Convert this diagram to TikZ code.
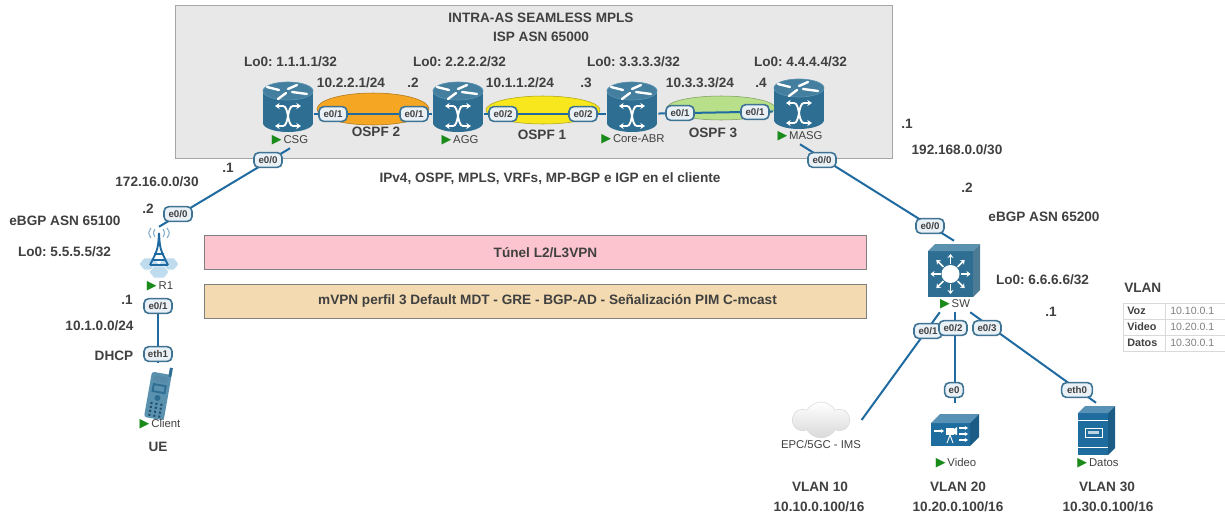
\documentclass[tikz,border=0pt]{standalone}
\usepackage{fontspec}
\setmainfont{Liberation Sans}
\newfontfamily\symfont{DejaVu Sans}
\usepackage{xcolor}
\usetikzlibrary{arrows.meta,shapes.symbols}

\definecolor{txtgray}{HTML}{404040}
\definecolor{linkblue}{HTML}{1F6AA0}
\definecolor{portline}{HTML}{3F7394}
\definecolor{portfill}{HTML}{EAF1F6}
\definecolor{devblue}{HTML}{2E6E92}
\definecolor{devtop}{HTML}{447F9F}
\definecolor{devside}{HTML}{5A91AF}
\definecolor{srvblue}{HTML}{1F6C9E}
\definecolor{hexblue}{HTML}{BFDCEF}
\definecolor{playgreen}{HTML}{1A8A1A}
\definecolor{ospforange}{HTML}{F5A623}
\definecolor{ospfyellow}{HTML}{F8E71C}
\definecolor{ospfgreen}{HTML}{B8E08A}
\definecolor{bandpink}{HTML}{FCC4CE}
\definecolor{bandtan}{HTML}{F3DAB0}

\newcommand{\playmark}{{\symfont\fontsize{9.5}{10}\selectfont\textcolor{playgreen}{▶}}\,}

\tikzset{
  boldlabel/.style={inner sep=0pt,text=txtgray,font=\frenchspacing\bfseries\fontsize{10.2}{12}\selectfont},
  devlabel/.style={inner sep=0pt,minimum height=12pt,text=txtgray,font=\fontsize{8.5}{10}\selectfont},
  port/.style={draw=portline,line width=1.2pt,fill=portfill,rounded corners=3.5pt,inner sep=0pt,
    minimum width=21pt,minimum height=11pt,text=txtgray,font=\bfseries\fontsize{7.3}{9}\selectfont},
  devbox/.style={inner sep=0pt,minimum width=39pt,minimum height=39pt},
  link/.style={draw=linkblue,line width=1.5pt},
  area/.style={draw=#1!70!black,line width=0.4pt,fill=#1},
  band/.style={draw=gray,line width=0.7pt,minimum width=497pt,minimum height=25.5pt,inner sep=0pt,
    text=txtgray,font=\frenchspacing\bfseries\fontsize{10.2}{12}\selectfont},
  cell/.style={inner sep=0pt,anchor=west,text=gray,font=\fontsize{7.9}{10}\selectfont},
  cellhead/.style={inner sep=0pt,anchor=west,text=txtgray,font=\bfseries\fontsize{8.1}{10}\selectfont},
  router/.pic={
    \fill[devblue] (-25,-23) rectangle (25,9);
    \fill[devblue] (0,9) ellipse [x radius=25,y radius=9];
    \draw[devside,fill=devtop,line width=0.5pt] (0,-23) ellipse [x radius=25,y radius=9];
    \draw[white,line width=1.8pt,line cap=round] (-21,-27) -- (-9,-24) (0,-25) -- (9,-29)
      (-10,-15) -- (-2,-21) (4,-22) -- (19,-20);
    \draw[white,line width=1.4pt,{Stealth[length=3.5pt,width=4.5pt]}-{Stealth[length=3.5pt,width=4.5pt]}]
      (-13,-8) -- (-5,-8) .. controls (1,-8) and (-1,12) .. (5,12) -- (13,12);
    \draw[white,line width=1.4pt,{Stealth[length=3.5pt,width=4.5pt]}-{Stealth[length=3.5pt,width=4.5pt]}]
      (-13,12) -- (-5,12) .. controls (1,12) and (-1,-8) .. (5,-8) -- (13,-8);
  },
  l3switch/.pic={
    \fill[devblue] (-26,-19) rectangle (19,27);
    \fill[devside] (-26,-19) -- (-19,-26) -- (26,-26) -- (19,-19) -- cycle;
    \fill[devside!85!black] (19,-19) -- (26,-26) -- (26,20) -- (19,27) -- cycle;
    \fill[white] (-3.5,4) circle [x radius=9,y radius=9];
    \foreach \ang in {0,45,...,315}
      \draw[white,line width=1.2pt,-{Stealth[length=3pt,width=4.5pt]}]
        ([shift={(\ang:10)}]-3.5,4) -- ([shift={(\ang:20)}]-3.5,4);
  },
  tower/.pic={
    % hex cells
    \foreach \hx/\hy in {-10/9,10/9,0/17}
      \draw[white,line width=0.4pt,fill=hexblue,shift={(\hx,\hy)}] (-10,0) -- (-5,-6) -- (5,-6) -- (10,0) -- (5,6) -- (-5,6) -- cycle;
    % mast
    \draw[linkblue,line width=1.4pt] (0,-22) .. controls (-1,-6) .. (-9,10) (0,-22) .. controls (1,-6) .. (9,10)
      (-9,10) -- (9,10) (-5,-1) -- (5,-1) (-7,5) -- (7,5);
    % signal
    \draw[linkblue!55,line width=0.8pt] (-4,-26) .. controls (-6,-22) .. (-4,-18)
      (4,-26) .. controls (6,-22) .. (4,-18) (-8,-27) .. controls (-11,-22) .. (-8,-17)
      (8,-27) .. controls (11,-22) .. (8,-17);
  },
  phone/.pic={
    \begin{scope}[rotate=-10]
      \fill[devside,rounded corners=2pt] (-10,-22) rectangle (10,24);
      \fill[devblue!80,rounded corners=1pt] (-7,-19) rectangle (7,-13);
      \fill[devblue] (-7,-11) rectangle (7,-2);
      \fill[devside] (-5,-9) rectangle (5,-4);
      \fill[devblue] (0,3) circle [x radius=3,y radius=3];
      \fill[devblue] (7,-29) rectangle (10,-20);
      \foreach \kx in {-5,0,5}
        \foreach \ky in {9,13,17,21}
          \fill[devblue!70!black] (\kx-1,\ky-1) rectangle (\kx+1,\ky+1);
    \end{scope}
  },
  videobox/.pic={
    \fill[srvblue] (-24,-7) rectangle (15,16);
    \fill[srvblue!75!white] (-24,-7) -- (-15,-16) -- (24,-16) -- (15,-7) -- cycle;
    \fill[srvblue!85!black] (15,-7) -- (24,-16) -- (24,7) -- (15,16) -- cycle;
    \fill[white] (-9,-2) rectangle (-1,5);
    \fill[white] (-1,-1) -- (2,-3) -- (2,5) -- (-1,4) -- cycle;
    \draw[white,line width=0.7pt] (-5,5) -- (-8,13) (-5,5) -- (-2,13);
    \draw[white,line width=0.8pt,-{Stealth[length=2.5pt,width=3pt]}] (-21,1) -- (-11,1);
    \foreach \ay in {-2,4,10}
      \draw[white,line width=0.8pt,-{Stealth[length=2.5pt,width=3pt]}] (4,\ay) -- (13,\ay);
  },
  server/.pic={
    \fill[srvblue] (-18,-18) rectangle (12,24);
    \fill[srvblue!75!white] (-18,-18) -- (-11,-25) -- (19,-25) -- (12,-18) -- cycle;
    \fill[srvblue!85!black] (12,-18) -- (19,-25) -- (19,17) -- (12,24) -- cycle;
    \draw[white,line width=0.5pt] (-18,-11) -- (12,-11) (-18,16) -- (12,16);
    \draw[white,line width=0.7pt] (-11,-3) rectangle (6,6);
    \fill[white!70!srvblue] (-8,0) rectangle (3,3);
  },
}

\begin{document}
\begin{tikzpicture}[x=0.75pt,y=-0.75pt]
  \useasboundingbox (0,0) rectangle (1225,518);
  % core box
  \draw[draw=gray!70,fill=gray!18,line width=0.7pt] (175,5) rectangle (892,158);
  \node[boldlabel] (title) at (541,18) {INTRA-AS SEAMLESS MPLS};
  \node[boldlabel] (isp) at (541,37) {ISP ASN 65000};
  % ospf areas
  \path[area=ospforange] (373,109) ellipse [x radius=56,y radius=16];
  \path[area=ospfyellow] (543,110) ellipse [x radius=57,y radius=14];
  \path[area=ospfgreen] (721,108) ellipse [x radius=54,y radius=12];
  % devices
  \node[devbox] (csg) at (288,114) {};
  \node[devbox] (agg) at (458,114) {};
  \node[devbox] (core) at (632,114) {};
  \node[devbox] (masg) at (799,111) {};
  \node[devbox,minimum width=30pt,minimum height=42pt] (r1) at (159,255) {};
  \node[devbox,minimum width=20pt,minimum height=47pt] (client) at (158,395) {};
  \node[devbox,minimum height=43.5pt] (sw) at (954,270) {};
  \node[devbox,minimum height=40.5pt] (video) at (955,430) {};
  \node[devbox,minimum width=28pt,minimum height=42pt] (datos) at (1096,431) {};
  \node[cloud,cloud puffs=6,cloud puff arc=120,aspect=1.6,draw=gray!30,top color=white,bottom color=gray!30,
    inner sep=0pt,minimum width=42pt,minimum height=27pt,outer xsep=9pt] (epc) at (821,420) {};
  \pic at (csg) {router};
  \pic at (agg) {router};
  \pic at (core) {router};
  \pic at (masg) {router};
  \pic at (r1) {tower};
  \pic at (client) {phone};
  \pic at (sw) {l3switch};
  \pic at (video) {videobox};
  \pic at (datos) {server};
  % device names
  \node[devlabel] (csglbl) at (290,140) {\playmark CSG};
  \node[devlabel] (agglbl) at (460,140) {\playmark AGG};
  \node[devlabel] (corelbl) at (633,139) {\playmark Core-ABR};
  \node[devlabel] (masglbl) at (800,136) {\playmark MASG};
  \node[devlabel] (r1lbl) at (160,286) {\playmark R1};
  \node[devlabel] (clientlbl) at (160,424) {\playmark Client};
  \node[devlabel] (swlbl) at (955,304) {\playmark SW};
  \node[devlabel] (videolbl) at (956,463) {\playmark Video};
  \node[devlabel] (datoslbl) at (1098,463) {\playmark Datos};
  \node[devlabel] (epclbl) at (821,444) {EPC/5GC - IMS};
  % links
  \draw[link] (csg) -- (agg);
  \draw[link] (agg) -- (core);
  \draw[link] (core) -- (masg);
  \draw[link] (csglbl.south) -- (r1.north);
  \draw[link] (masglbl.south) -- (sw.north);
  \draw[link] (swlbl.south west) -- (epc.east);
  \draw[link] (swlbl.south) -- (video.north);
  \draw[link] (swlbl.south east) -- (datos.north);
  % ports
  \node[port] (csgagg) at (333,114) {e0/1};
  \node[port] (aggcsg) at (414,114) {e0/1};
  \node[port] (aggcore) at (503,114) {e0/2};
  \node[port] (coreagg) at (583,114) {e0/2};
  \node[port] (coremasg) at (680,113) {e0/1};
  \node[port] (masgcore) at (755,112) {e0/1};
  \node[port] (csgr1) at (268,160) {e0/0};
  \node[port] (r1csg) at (178,214) {e0/0};
  \node[port] (masgsw) at (822,160) {e0/0};
  \node[port] (swmasg) at (930,226) {e0/0};
  \node[port] (r1client) at (158,306) {e0/1};
  \node[port] (clientr1) at (158,354) {eth1};
  \draw[link] (r1client) -- (clientr1);
  \draw[link] (clientr1) -- (client.north);
  \node[port] (swepc) at (928,331) {e0/1};
  \node[port] (swvideo) at (953,328) {e0/2};
  \node[port] (swdatos) at (987,328) {e0/3};
  \node[port,minimum width=14pt] (videosw) at (954,390) {e0};
  \node[port,minimum width=23pt] (datossw) at (1077,390) {eth0};
  % addressing
  \node[boldlabel] (lo1) at (290.5,62) {Lo0: 1.1.1.1/32};
  \node[boldlabel] (lo2) at (459.5,62) {Lo0: 2.2.2.2/32};
  \node[boldlabel] (lo3) at (633.5,62) {Lo0: 3.3.3.3/32};
  \node[boldlabel] (lo4) at (800.5,62) {Lo0: 4.4.4.4/32};
  \node[boldlabel] (net2) at (351,83) {10.2.2.1/24};
  \node[boldlabel] (dot2) at (413,83) {.2};
  \node[boldlabel] (net1) at (520,83) {10.1.1.2/24};
  \node[boldlabel] (dot3) at (586,83) {.3};
  \node[boldlabel] (net3) at (700,83) {10.3.3.3/24};
  \node[boldlabel] (dot4) at (761,83) {.4};
  \node[boldlabel] (ospf2) at (376,132) {OSPF 2};
  \node[boldlabel] (ospf1) at (542,135) {OSPF 1};
  \node[boldlabel] (ospf3) at (713,133) {OSPF 3};
  \node[boldlabel] (services) at (550,179) {IPv4, OSPF, MPLS, VRFs, MP-BGP e IGP en el cliente};
  % left side
  \node[boldlabel] (dotcsg) at (228,168) {.1};
  \node[boldlabel] (netr1) at (157,182) {172.16.0.0/30};
  \node[boldlabel] (dotr1) at (148,209) {.2};
  \node[boldlabel] (asnr1) at (65,221) {eBGP ASN 65100};
  \node[boldlabel] (lor1) at (64.5,252) {Lo0: 5.5.5.5/32};
  \node[boldlabel] (dotlan) at (127,300) {.1};
  \node[boldlabel] (netlan) at (99.5,326) {10.1.0.0/24};
  \node[boldlabel] (dhcp) at (114,356) {DHCP};
  \node[boldlabel] (ue) at (158,447) {UE};
  % tunnels
  \node[band,fill=bandpink,text depth=0pt] (tunnel) at (535.5,252.5) {\hspace{15pt}Túnel L2/L3VPN};
  \node[band,fill=bandtan] (mvpn) at (535.5,301) {\hspace{18pt}mVPN perfil 3 Default MDT - GRE - BGP-AD - Señalización PIM C-mcast};
  % right side
  \node[boldlabel] (dotmasg) at (907,124) {.1};
  \node[boldlabel] (netsw) at (957,150) {192.168.0.0/30};
  \node[boldlabel] (dotsw) at (967,188) {.2};
  \node[boldlabel] (asnsw) at (1044,217) {eBGP ASN 65200};
  \node[boldlabel] (losw) at (1042.5,280) {Lo0: 6.6.6.6/32};
  \node[boldlabel] (dotvlan) at (1051,312) {.1};
  % vlans
  \node[boldlabel] (vlan10) at (820,487) {VLAN 10};
  \node[boldlabel] (net10) at (819,507) {10.10.0.100/16};
  \node[boldlabel] (vlan20) at (958,487) {VLAN 20};
  \node[boldlabel] (net20) at (958,507) {10.20.0.100/16};
  \node[boldlabel] (vlan30) at (1107,487) {VLAN 30};
  \node[boldlabel] (net30) at (1108,507) {10.30.0.100/16};
  % vlan table
  \node[boldlabel,anchor=west] (vlantitle) at (1124,288) {VLAN};
  \draw[gray!30,line width=0.5pt] (1123,303) rectangle (1225,351) (1123,319) -- (1225,319)
    (1123,335) -- (1225,335) (1165,303) -- (1165,351);
  \node[cellhead] (voz) at (1127,311) {Voz};
  \node[cell] (vozip) at (1170,311) {10.10.0.1};
  \node[cellhead] (vid) at (1127,327) {Video};
  \node[cell] (vidip) at (1170,327) {10.20.0.1};
  \node[cellhead] (dat) at (1127,343) {Datos};
  \node[cell] (datip) at (1170,343) {10.30.0.1};
\end{tikzpicture}
\end{document}
